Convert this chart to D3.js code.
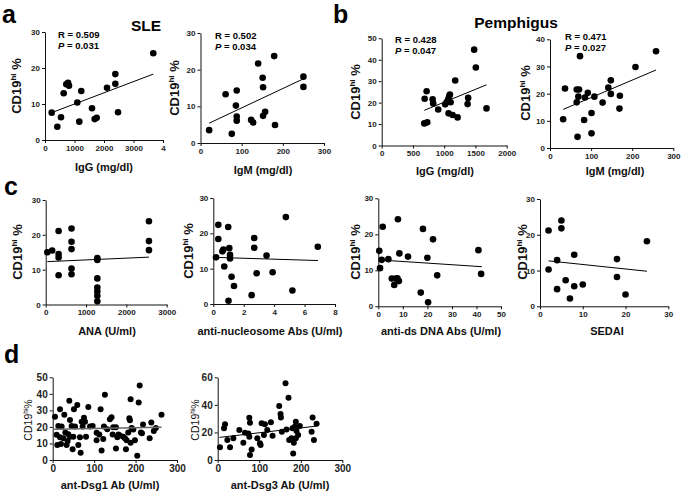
<!DOCTYPE html>
<html><head><meta charset="utf-8">
<script src="https://cdn.jsdelivr.net/npm/d3@7"></script>
<style>body{margin:0;background:#fff} svg{display:block} text{font-family:"Liberation Sans",Arial,sans-serif}</style>
</head><body><svg id="c" width="685" height="495"></svg>
<script>
// ---- data ----
const a1X = [227,417,542,633,722,780,813,1095,1163,1230,1593,1684,1752,2102,2384,2384,2475,3670];
const a1Y = [7.6,3.7,6.3,13,15.5,15.9,15.1,10.4,5.1,13.6,8.8,5.8,6.2,14.5,18.3,15.6,7.7,24.1];
const a1Fit = [[227,7.6],[3670,18.3]];
const a2X = [21,61,76,88,86,88,88,123,128,140,151,152,152,157,179,181,250,250];
const a2Y = [3.5,13.3,2.5,14.3,10.2,7.2,6.1,6.3,5.6,21.7,17.8,15.2,7.4,8.5,23.7,4.9,18.1,15.3];
const a2Fit = [[21,5.4],[250,17.5]];
const b1X = [681,729,687,719,815,824,904,1016,1038,1064,1080,1091,1102,1070,1134,1214,1176,1383,1374,1479,1506,1677];
const b1Y = [10.3,10.8,21.8,25.3,21.6,19.6,16.8,19.2,20.2,21.5,23,23.8,20.2,15,14.2,13.1,30.3,22.2,19.3,44.7,36.4,17.3];
const b1Fit = [[681,16.4],[1677,28.3]];
const b2X = [32,36.5,65,70.6,73,69,65,67,83,85,92,101,101,108,128,142,148,148,170,169,208,258];
const b2Y = [10.6,21.9,21.5,21.5,33.8,18.9,16.8,4.1,10.3,18.6,20.3,12.9,5.4,18.9,16.7,22.2,24.9,19.9,19.2,14.5,29.8,35.6];
const b2Fit = [[32,14.2],[258,28.7]];
const c1X = [40,160,320,320,320,320,640,640,640,640,640,1280,1280,1280,1280,1280,1280,1280,2560,2560,2560];
const c1Y = [15.0,15.5,21.1,14.5,13.5,8.4,21.8,18.0,15.9,10.3,8.7,13.3,12.8,7.5,4.9,3.7,2.5,0.9,23.9,18.2,15.6];
const c1Fit = [[40,12.3],[2560,13.6]];
const c2X = [0.18,0.33,0.33,0.6,0.66,0.72,0.98,1.05,1.1,1.1,1.0,1.2,1.36,2.52,2.69,2.69,2.85,3.5,3.9,4.77,5.2,6.87];
const c2Y = [13.2,22.4,18.4,14.9,15.4,10.6,21.8,15.8,13.9,12.9,0.9,7.7,5.1,2.5,18.7,15.9,8.7,13.7,9.0,24.6,3.8,16.2];
const c2Fit = [[0.11,13.2],[6.88,12.3]];
const c3X = [0.4,0.7,1.4,1.8,4.1,5.5,6.5,7.1,7.8,8.4,8.0,8.6,12.1,17.3,18.2,20,20.3,22.3,24,40.8,41.9];
const c3Y = [15.4,10.6,12.9,22.1,13.1,7.7,5.9,7.7,7.8,7.0,24.2,14.7,13.8,3.8,21.5,13.5,1.1,18.6,8.6,15.6,9.0];
const c3Fit = [[0,12.9],[42.2,11.0]];
const c4X = [2,2,4,4,5,5,6,7,8,8,10,18,18,20,25];
const c4Y = [21.2,10.3,12.9,4.8,24.0,21.8,7.3,2.2,14.4,5.6,6.1,13.2,8.2,3.3,18.2];
const c4Fit = [[2,12.7],[25,9.8]];
const d1X = [5.5,9.5,11.1,13.6,17.6,20,21.6,17.6,25.6,28,30.5,33.6,36,37.7,41.7,40.1,41.7,45.7,48.1,49.8,53.8,51.3,59.3,61.8,65.8,67.4,69.9,72.3,75.5,78,80.4,86,90,96.4,106,106,112.4,115.6,118,122,123.7,126,131.7,138,142,146,144.6,152.6,152.6,156,158.4,162.4,170.4,174.4,176.8,178.4,182.4,184.9,188,186.4,190.5,194.5,188,198.5,204,207.5,209.9,213,215.5,218,234,238,244,249,262.6];
const d1Y = [26.2,15.2,9.1,20.6,13.7,9.7,20.2,30.7,13.1,27.3,16.6,9.1,11.5,15.6,24.2,35.8,14.1,20.6,6.5,14.1,20.2,30.7,33.3,9.1,13.7,4.4,23.2,20.2,25.5,23.2,14.1,32,20.2,20.6,11.9,16.4,15.4,30.7,5.7,12.7,20.2,39.4,18.6,24.6,25.9,19.8,15.4,19.8,7,13.7,15.4,14.8,14.1,13.1,6.5,11.9,16.6,25.3,36.8,24,19.4,18.4,10.5,11.9,2.5,34.7,45,16.6,16.2,21.4,13.1,22.6,17.6,19.4,27.3];
const d1Fit = [[2.5,18.6],[262.6,19.8]];
const d2X = [5.5,15.2,17.6,23.2,29.7,37.7,52.1,61.7,65.7,73.7,76.1,77.7,76.1,77.7,81.7,95.3,101.7,103.3,105.7,113.7,111.3,119.3,128.1,132.1,148.1,151.3,152.1,154.5,163.3,165.7,170.5,172.1,177.7,180.1,183.3,181.7,185.7,188.1,189.7,193.7,197.7,188.1,226.1,228.5,231.7,238.1];
const d2Y = [9.2,23,25.9,14.5,9.2,15.7,21.7,12.6,19.8,19.3,30.7,27.1,16.9,3.6,7.7,15.7,12.1,10.9,26.6,25.9,18.1,21.7,27.3,17.6,39.1,33.3,30.9,20.5,55.6,22.2,45.2,14.5,15.7,23,12.6,4.8,24.2,27.8,21,18.1,24.6,15.7,20.5,30.9,14.5,26.3];
const d2Fit = [[4.3,16.4],[238,24.6]];

const a1XTicks = [0,1000,2000,3000,4000], a1XTickLabels = ["0","1000","2000","3000","4"];
const igmTicks = [0,100,200,300];
const b1XTicks = [0,500,1000,1500,2000];
const y30Ticks = [0,10,20,30], y40Ticks = [0,10,20,30,40], y50Ticks = [0,10,20,30,40,50], y60Ticks = [0,20,40,60];
const c1XTicks = [0,1000,2000,3000], c2XTicks = [0,2,4,6,8], c3XTicks = [0,10,20,30,40,50], c4XTicks = [0,10,20,30];
const stats = {a1:["0.509","0.031"], a2:["0.502","0.034"], b1:["0.428","0.047"], b2:["0.471","0.027"]};

const FONT = '"Liberation Sans", Arial, sans-serif';
const svg = d3.select('#c');

function panel(p){
  const x = d3.scaleLinear().domain(p.xDomain).range(p.xRange);
  const y = d3.scaleLinear().domain(p.yDomain).range(p.yRange);
  const g = svg.append('g');
  const xa = d3.axisBottom(x).tickValues(p.xTicks).tickSize(3).tickSizeOuter(0).tickPadding(2)
    .tickFormat((d,i)=> p.xLabels ? p.xLabels[i] : String(d));
  const ya = d3.axisLeft(y).tickValues(p.yTicks).tickSize(3).tickSizeOuter(0).tickPadding(2).tickFormat(d=>String(d));
  const gx = g.append('g').attr('transform',`translate(0,${p.yRange[0]})`).call(xa);
  const gy = g.append('g').attr('transform',`translate(${p.xRange[0]},0)`).call(ya);
  [gx,gy].forEach(a=>{
    a.attr('font-family',FONT).attr('font-size',p.tf).attr('font-weight','bold');
    a.selectAll('text').attr('fill','#222');
    a.selectAll('path,line').attr('stroke','#111').attr('stroke-width',1);
  });
  g.selectAll('circle').data(p.xs.map((v,i)=>[v,p.ys[i]])).join('circle')
    .attr('cx',d=>x(d[0])).attr('cy',d=>y(d[1])).attr('r',p.r).attr('fill','#000');
  g.append('path').attr('d',d3.line().x(d=>x(d[0])).y(d=>y(d[1]))(p.fit))
    .attr('stroke',p.lc||'#000').attr('stroke-width',p.lw||1).attr('fill','none');
  const yl = g.append('text').attr('transform',`translate(${p.ylx + p.yfs*0.36},${p.yly}) rotate(-90)`)
    .attr('text-anchor','middle').attr('font-size',p.yfs).attr('font-weight',p.yw||'bold').attr('fill','#111');
  yl.append('tspan').text('CD19');
  yl.append('tspan').text('hi').attr('font-size',p.yfs*0.62).attr('dy',-p.yfs*0.38);
  yl.append('tspan').text(p.pct).attr('dy',p.yfs*0.38);
  g.append('text').attr('x',p.tx).attr('y',p.ty).attr('text-anchor','middle')
    .attr('font-size',p.tfs||11).attr('font-weight','bold').attr('fill','#111').text(p.title);
  if (p.st){
    g.append('text').attr('x',p.sx).attr('y',p.sy).attr('font-size',9.5).attr('font-weight','bold').text('R = '+p.st[0]);
    const t = g.append('text').attr('x',p.sx).attr('y',p.sy+11).attr('font-size',9.5).attr('font-weight','bold');
    t.append('tspan').attr('font-style','italic').text('P');
    t.append('tspan').text(' = '+p.st[1]);
  }
}

const base = {tf:8, r:3.3, yfs:13, pct:' %'};
panel({...base, xs:a1X, ys:a1Y, fit:a1Fit, xDomain:[0,4000], yDomain:[0,30], xRange:[45,163], yRange:[140,32],
  xTicks:a1XTicks, xLabels:a1XTickLabels, yTicks:y30Ticks, ylx:16, yly:86, tx:104, ty:171, title:'IgG (mg/dl)', st:stats.a1, sx:58, sy:37.5});
panel({...base, xs:a2X, ys:a2Y, fit:a2Fit, xDomain:[0,300], yDomain:[0,30], xRange:[200.5,324], yRange:[143,33],
  xTicks:igmTicks, yTicks:y30Ticks, ylx:174, yly:88, tx:263, ty:174, title:'IgM (mg/dl)', st:stats.a2, sx:215, sy:39});
panel({...base, xs:b1X, ys:b1Y, fit:b1Fit, xDomain:[0,2000], yDomain:[0,50], xRange:[381.7,506.7], yRange:[145.5,38.3],
  xTicks:b1XTicks, yTicks:y50Ticks, ylx:355, yly:92, tx:445, ty:175, title:'IgG (mg/dl)', st:stats.b1, sx:395, sy:42.5});
panel({...base, xs:b2X, ys:b2Y, fit:b2Fit, xDomain:[0,300], yDomain:[0,40], xRange:[550,673.3], yRange:[148,39.3],
  xTicks:igmTicks, yTicks:y40Ticks, ylx:525, yly:93, tx:615, ty:175, title:'IgM (mg/dl)', st:stats.b2, sx:565, sy:39.5});
panel({...base, xs:c1X, ys:c1Y, fit:c1Fit, xDomain:[0,3000], yDomain:[0,30], xRange:[45.7,166.7], yRange:[304.5,200],
  xTicks:c1XTicks, yTicks:y30Ticks, ylx:17, yly:252, tx:107, ty:335, title:'ANA (U/ml)'});
panel({...base, xs:c2X, ys:c2Y, fit:c2Fit, xDomain:[0,8], yDomain:[0,30], xRange:[213.3,335], yRange:[304,198],
  xTicks:c2XTicks, yTicks:y30Ticks, ylx:188, yly:251, tx:270, ty:335, title:'anti-nucleosome Abs (U/ml)'});
panel({...base, xs:c3X, ys:c3Y, fit:c3Fit, xDomain:[0,50], yDomain:[0,30], xRange:[378.3,501], yRange:[306.3,198.3],
  xTicks:c3XTicks, yTicks:y30Ticks, ylx:355, yly:252, tx:441, ty:335, title:'anti-ds DNA Abs (U/ml)'});
panel({...base, xs:c4X, ys:c4Y, fit:c4Fit, xDomain:[0,30], yDomain:[0,30], xRange:[540,668.3], yRange:[306.3,199],
  xTicks:c4XTicks, yTicks:y30Ticks, ylx:522, yly:252, tx:607, ty:335, title:'SEDAI'});
const dbase = {tf:10, r:3, yfs:10.5, yw:'normal', pct:'%', tfs:11};
panel({...dbase, xs:d1X, ys:d1Y, fit:d1Fit, lc:'#666', lw:1.3, xDomain:[0,300], yDomain:[0,50], xRange:[52.7,177], yRange:[460,377.3],
  xTicks:igmTicks, yTicks:y50Ticks, ylx:28, yly:420, tx:110, ty:489, title:'ant-Dsg1 Ab (U/ml)'});
panel({...dbase, xs:d2X, ys:d2Y, fit:d2Fit, xDomain:[0,300], yDomain:[0,60], xRange:[217.7,342.3], yRange:[460,377.3],
  xTicks:igmTicks, yTicks:y60Ticks, ylx:195, yly:420, tx:280, ty:489, title:'ant-Dsg3 Ab (U/ml)'});

// panel letters and group titles
[['a',2,22.5],['b',333,22.5],['c',4,195],['d',4,363]].forEach(([t,x,y])=>{
  svg.append('text').attr('x',x).attr('y',y).attr('font-size',25).attr('font-weight','bold').attr('fill','#000').text(t);
});
svg.append('text').attr('x',146).attr('y',31).attr('text-anchor','middle').attr('font-size',15.5).attr('font-weight','bold').text('SLE');
svg.append('text').attr('x',516).attr('y',28).attr('text-anchor','middle').attr('font-size',15.5).attr('font-weight','bold').text('Pemphigus');
</script></body></html>
